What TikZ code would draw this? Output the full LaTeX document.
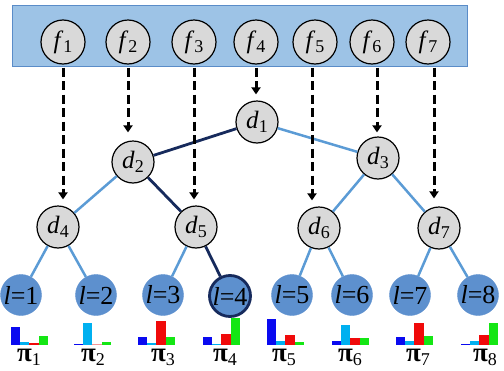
\documentclass[tikz,border=0pt]{standalone}
\usepackage{fontspec}
\setmainfont{Liberation Serif}
\newfontfamily\tnr{Liberation Serif}
\usetikzlibrary{arrows.meta,shapes.geometric}
\definecolor{boxfill}{RGB}{157,195,230}
\definecolor{boxdraw}{RGB}{90,140,200}
\definecolor{nodegray}{RGB}{217,217,217}
\definecolor{leafblue}{RGB}{93,144,206}
\definecolor{edgeblue}{RGB}{91,155,213}
\definecolor{navy}{RGB}{22,42,92}
\definecolor{barblue}{RGB}{10,10,240}
\definecolor{barcyan}{RGB}{0,176,240}
\definecolor{barred}{RGB}{240,10,10}
\definecolor{bargreen}{RGB}{20,230,20}
\definecolor{barpink}{RGB}{245,150,150}
\newcommand\lowsub[1]{\raisebox{-4pt}{\fontsize{18}{18}\selectfont #1}}
\newcommand\lowpisub[1]{\raisebox{-4.5pt}{\fontsize{18}{18}\selectfont\mdseries #1}}
\begin{document}
\begin{tikzpicture}[x=1pt,y=-1pt,
 fnode/.style={circle,draw=black,line width=1.2pt,fill=nodegray,minimum size=44pt,inner sep=0pt,font=\tnr\fontsize{25}{27}\selectfont},
 dnode/.style={fnode,minimum size=42pt},
 leaf/.style={circle,fill=leafblue,draw=leafblue,minimum size=41pt,inner sep=-8pt,font=\tnr\fontsize{26}{28}\selectfont},
 farrow/.style={dash pattern=on 9pt off 4.5pt,line width=3pt,-{Triangle[width=9pt,length=7pt]}},
 tedge/.style={edgeblue,line width=2.5pt},
 pedge/.style={navy,line width=2.8pt},
 pilabel/.style={font=\tnr\fontsize{27}{30}\selectfont\bfseries,inner sep=0pt,anchor=base}
]
\useasboundingbox (0,0) rectangle (504,370);
\node[fill=boxfill,draw=boxdraw,line width=0.8pt,minimum width=455pt,minimum height=61pt,inner sep=0pt] (band) at (239.5,35.5) {};
% feature nodes
\node[fnode] (f1) at (63,42) {\textit{f}\lowsub{1}};
\node[fnode] (f2) at (128,42) {\textit{f}\lowsub{2}};
\node[fnode] (f3) at (194,42) {\textit{f}\lowsub{3}};
\node[fnode] (f4) at (256,42) {\textit{f}\lowsub{4}};
\node[fnode] (f5) at (315,42) {\textit{f}\lowsub{5}};
\node[fnode] (f6) at (372,42) {\textit{f}\lowsub{6}};
\node[fnode] (f7) at (428,42) {\textit{f}\lowsub{7}};
% decision nodes
\node[dnode] (d1) at (257,122) {\textit{d}\lowsub{1}};
\node[dnode] (d2) at (133,162) {\textit{d}\lowsub{2}};
\node[dnode] (d3) at (378,158) {\textit{d}\lowsub{3}};
\node[dnode] (d4) at (58,227) {\textit{d}\lowsub{4}};
\node[dnode] (d5) at (196,227) {\textit{d}\lowsub{5}};
\node[dnode] (d6) at (319,228) {\textit{d}\lowsub{6}};
\node[dnode] (d7) at (439,228) {\textit{d}\lowsub{7}};
% leaves
\node[leaf] (l1) at (21,295) {\textit{l}=1};
\node[leaf] (l2) at (96,295) {\textit{l}=2};
\node[leaf] (l3) at (163,295) {\textit{l}=3};
\node[leaf,draw=navy,line width=2.8pt] (l4) at (230,296) {\textit{l}=4};
\node[leaf] (l5) at (292,295) {\textit{l}=5};
\node[leaf] (l6) at (352,295) {\textit{l}=6};
\node[leaf] (l7) at (410,295) {\textit{l}=7};
\node[leaf] (l8) at (478,295) {\textit{l}=8};
% tree edges
\draw[pedge] (d1) -- (d2);
\draw[tedge] (d1) -- (d3);
\draw[tedge] (d2) -- (d4);
\draw[pedge] (d2) -- (d5);
\draw[tedge] (d3) -- (d6);
\draw[tedge] (d3) -- (d7);
\draw[tedge] (d4) -- (l1);
\draw[tedge] (d4) -- (l2);
\draw[tedge] (d5) -- (l3);
\draw[pedge] (d5) -- (l4);
\draw[tedge] (d6) -- (l5);
\draw[tedge] (d6) -- (l6);
\draw[tedge] (d7) -- (l7);
\draw[tedge] (d7) -- (l8);
% feature arrows
\draw[farrow] ([yshift=-3pt]f1.south) -- ([yshift=6pt]f1.south |- d4.north);
\draw[farrow] ([yshift=-3pt]f2.south) -- ([yshift=8pt]f2.south |- d2.north);
\draw[farrow] ([yshift=-3pt]f3.south) -- ([yshift=6pt]f3.south |- d5.north);
\draw[farrow] ([yshift=-3pt]f4.south) -- ([yshift=6pt]f4.south |- d1.north);
\draw[farrow] ([xshift=-3pt,yshift=-3pt]f5.south) -- ([xshift=-3pt,yshift=6pt]f5.south |- d6.north);
\draw[farrow] ([xshift=5pt,yshift=-3pt]f6.south) -- ([xshift=5pt,yshift=4pt]f6.south |- d3.north);
\draw[farrow] ([xshift=6pt,yshift=-3pt]f7.south) -- ([xshift=6pt,yshift=8pt]f7.south |- d7.north);
% histograms
\foreach \gx/\a/\b/\c/\d/\rc in {11/18/3/2/9/barred, 74/1/22/1/3/barpink, 138/8/2/24/8/barred, 203/8/1/11/27/barred, 267/26/4/10/3/barred, 332/4/20/7/7/barred, 396/8/4/22/9/barred, 461/1/4/10/22/barred} {
  \fill[barblue] (\gx,345) rectangle ++(9.2,-\a);
  \fill[barcyan] ({\gx+9.2},345) rectangle ++(9.2,-\b);
  \fill[\rc] ({\gx+18.4},345) rectangle ++(9.2,-\c);
  \fill[bargreen] ({\gx+27.6},345) rectangle ++(9.2,-\d);
}
% pi labels
\node[pilabel] (p1) at (29,361) {π\lowpisub{1}};
\node[pilabel] (p2) at (93,361) {π\lowpisub{2}};
\node[pilabel] (p3) at (163,361) {π\lowpisub{3}};
\node[pilabel] (p4) at (225,361) {π\lowpisub{4}};
\node[pilabel] (p5) at (284,361) {π\lowpisub{5}};
\node[pilabel] (p6) at (350,361) {π\lowpisub{6}};
\node[pilabel] (p7) at (418,361) {π\lowpisub{7}};
\node[pilabel] (p8) at (485,361) {π\lowpisub{8}};
\end{tikzpicture}
\end{document}
